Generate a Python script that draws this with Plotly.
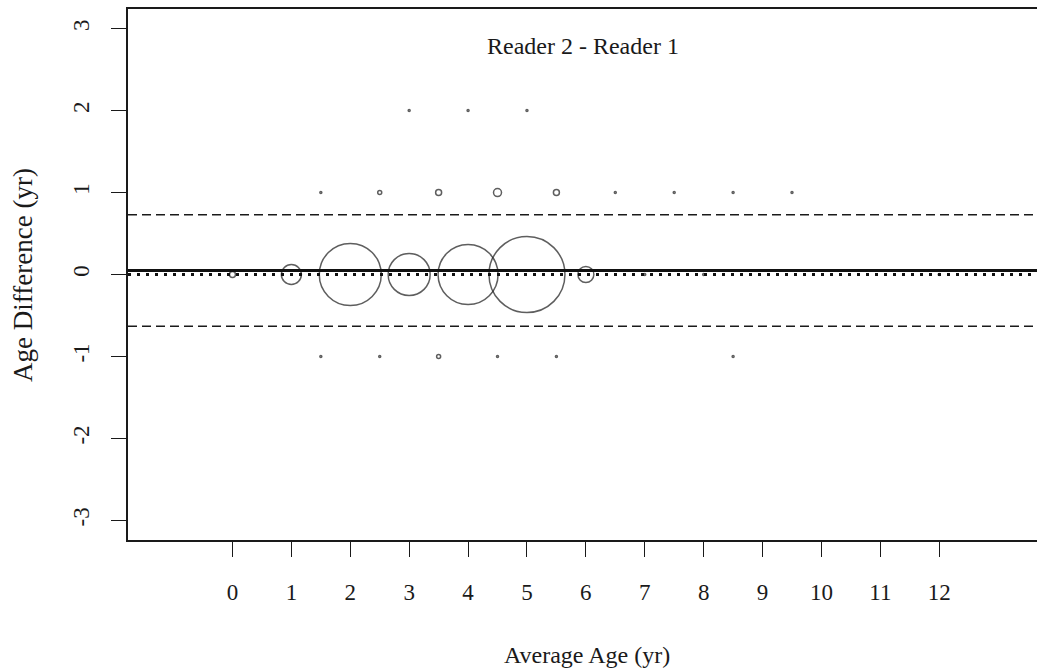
import plotly.graph_objects as go

# Average age of each paired reading (yr), the difference Reader 2 - Reader 1 (yr)
# and how many fish fall on that (average, difference) pair.
avg_age = [0, 1, 2, 3, 4, 5, 6, 7, 8, 12,
           1.5, 2.5, 3.5, 4.5, 5.5, 6.5, 7.5, 8.5, 9.5,
           3, 4, 5,
           1.5, 2.5, 3.5, 4.5, 5.5, 8.5]
age_diff = [0, 0, 0, 0, 0, 0, 0, 0, 0, 0,
            1, 1, 1, 1, 1, 1, 1, 1, 1,
            2, 2, 2,
            -1, -1, -1, -1, -1, -1]
n_fish = [3, 10, 31, 21, 30, 38, 8, 1, 1, 1,
          1, 2, 3, 4, 3, 1, 1, 1, 1,
          1, 1, 1,
          1, 1, 2, 1, 1, 1]

# Mean difference and the limits of agreement
mean_diff = 0.05
upper_limit = 0.73
lower_limit = -0.63

x_ticks = list(range(0, 13))
y_ticks = [-3, -2, -1, 0, 1, 2, 3]

INK = "#1a1a1a"
SERIF = "Liberation Serif, Times New Roman, serif"
FONT = dict(family=SERIF, size=23, color="#1a1a1a")
TITLE_FONT = dict(family=SERIF, size=24, color="#1a1a1a")

fig = go.Figure()

# Bubble radius grows linearly with the number of fish
fig.add_trace(go.Scatter(
    x=avg_age, y=age_diff, mode="markers",
    marker=dict(symbol="circle-open", size=[2 * n for n in n_fish],
                color=INK, line=dict(color=INK, width=1.5)),
    hoverinfo="x+y+text", text=[f"n={n}" for n in n_fish],
    showlegend=False,
))

# Reference lines: zero (dotted), mean difference (thick solid), limits (dashed)
fig.add_shape(type="line", xref="paper", x0=0, x1=1, yref="y", y0=0, y1=0,
              line=dict(color="#111111", width=3, dash="3px,6px"))
fig.add_shape(type="line", xref="paper", x0=0, x1=1, yref="y", y0=mean_diff, y1=mean_diff,
              line=dict(color="#111111", width=3))
for lim in (upper_limit, lower_limit):
    fig.add_shape(type="line", xref="paper", x0=0, x1=1, yref="y", y0=lim, y1=lim,
                  line=dict(color="#1a1a1a", width=1.5, dash="9px,5px"))

W, H = 1037, 671
ML, MR, MT, MB = 128, 0, 9, 131
pw = W - ML - MR
ph = H - MT - MB

def px_x(p):
    return (p - ML) / pw

def px_y(p):
    return 1 - (p - MT) / ph

fig.update_layout(
    width=W, height=H, autosize=False,
    margin=dict(l=ML, r=MR, t=MT, b=MB, pad=0),
    paper_bgcolor="white", plot_bgcolor="white",
    font=FONT,
    xaxis=dict(range=[-1.774, 13.66], tickmode="array", tickvals=x_ticks,
               ticktext=[str(v) for v in x_ticks],
               ticks="outside", ticklen=15, tickwidth=1.3, tickcolor=INK,
               showgrid=False, zeroline=False, showline=True, mirror=True,
               linecolor=INK, linewidth=2, ticklabelstandoff=15),
    yaxis=dict(range=[-3.24, 3.24], tickmode="array", tickvals=y_ticks,
               ticktext=[str(v) for v in y_ticks], tickangle=-90,
               ticks="outside", ticklen=15, tickwidth=1.3, tickcolor=INK,
               showgrid=False, zeroline=False, showline=True, mirror=False,
               linecolor=INK, linewidth=2, ticklabelstandoff=13),
    annotations=[
        dict(text="Reader 2 - Reader 1", xref="paper", yref="paper",
             x=px_x(583), y=px_y(46),
             xanchor="center", yanchor="middle", showarrow=False, font=TITLE_FONT),
        dict(text="Average Age (yr)", xref="paper", yref="paper",
             x=px_x(587), y=px_y(655),
             xanchor="center", yanchor="middle", showarrow=False, font=TITLE_FONT),
        dict(text="Age Difference (yr)", xref="paper", yref="paper",
             x=px_x(23), y=px_y(275), textangle=-90,
             xanchor="center", yanchor="middle", showarrow=False,
             font=dict(family=SERIF, size=27, color="#1a1a1a")),
    ],
)

fig.write_html("out.html")
